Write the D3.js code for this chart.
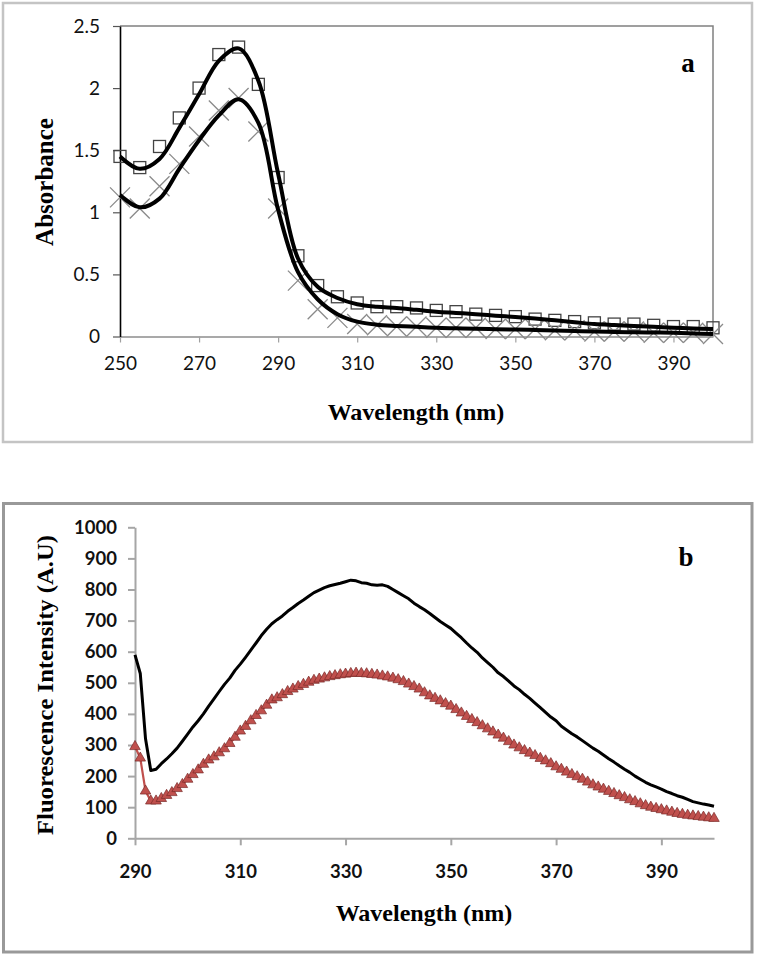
<!DOCTYPE html>
<html><head><meta charset="utf-8">
<script src="https://cdn.jsdelivr.net/npm/d3@7"></script>
<style>body{margin:0;background:#fff}svg{display:block}</style>
</head><body><svg id="c" width="757" height="956"></svg>
<script>
// ---------- Panel a : absorbance ----------
const wlA = [250,255,260,265,270,275,280,285,290,295,300,305,310,315,320,325,330,335,340,345,350,355,360,365,370,375,380,385,390,395,400];
const absSquares = [1.45,1.36,1.53,1.76,2.0,2.27,2.33,2.03,1.28,0.65,0.41,0.32,0.27,0.24,0.24,0.23,0.21,0.20,0.18,0.17,0.16,0.14,0.13,0.12,0.11,0.10,0.10,0.09,0.08,0.08,0.07];
const absCrosses = [1.12,1.03,1.21,1.39,1.61,1.82,1.92,1.65,1.03,0.45,0.22,0.15,0.10,0.09,0.08,0.08,0.07,0.07,0.07,0.06,0.06,0.06,0.05,0.05,0.04,0.04,0.04,0.03,0.03,0.03,0.02];
const absLineUpper = [1.45,1.35,1.43,1.68,1.95,2.22,2.32,2.06,1.31,0.63,0.40,0.31,0.26,0.24,0.23,0.215,0.20,0.19,0.18,0.168,0.157,0.145,0.13,0.115,0.10,0.092,0.085,0.078,0.07,0.065,0.06];
const absLineLower = [1.14,1.04,1.11,1.35,1.58,1.78,1.91,1.72,1.02,0.52,0.30,0.18,0.12,0.095,0.085,0.078,0.07,0.066,0.062,0.059,0.056,0.052,0.048,0.044,0.04,0.037,0.034,0.032,0.03,0.025,0.02];
const xTicksA = [250,270,290,310,330,350,370,390];
const yTicksA = [0,0.5,1,1.5,2,2.5];

// ---------- Panel b : fluorescence ----------
const wlB = [290,291,292,293,294,295,296,297,298,299,300,301,302,303,304,305,306,307,308,309,310,311,312,313,314,315,316,317,318,319,320,321,322,323,324,325,326,327,328,329,330,331,332,333,334,335,336,337,338,339,340,341,342,343,344,345,346,347,348,349,350,351,352,353,354,355,356,357,358,359,360,361,362,363,364,365,366,367,368,369,370,371,372,373,374,375,376,377,378,379,380,381,382,383,384,385,386,387,388,389,390,391,392,393,394,395,396,397,398,399,400];
const fluBlack = [590,530,320,218,222,240,255,272,290,312,335,358,378,400,425,448,472,495,515,540,560,582,605,628,652,672,690,703,715,730,742,755,766,778,790,798,806,812,816,820,825,830,828,822,820,815,814,815,810,800,790,780,770,756,745,735,723,710,697,686,675,660,645,628,612,598,580,565,550,532,520,505,490,478,463,450,435,420,405,390,378,360,348,336,326,314,302,290,280,268,256,245,233,222,212,200,190,180,172,165,158,150,144,137,132,125,118,114,110,107,103];
const fluRed = [295,258,152,120,120,128,138,147,160,173,190,205,220,238,252,262,275,288,305,325,345,360,378,395,410,428,445,452,462,472,480,488,495,502,508,512,516,520,523,526,528,530,531,530,529,527,525,522,519,515,510,504,496,488,480,468,458,450,442,433,425,414,403,392,382,372,362,352,342,332,322,311,300,291,282,274,266,257,249,240,230,222,213,205,198,190,181,172,165,158,151,144,137,131,124,118,111,105,100,96,92,88,84,80,77,74,72,70,68,66,64];
const xTicksB = [290,310,330,350,370,390];
const yTicksB = [0,100,200,300,400,500,600,700,800,900,1000];

const svg = d3.select("#c");
const sans = "Lato, 'Open Sans', sans-serif";
const serif = "'Liberation Serif', 'DejaVu Serif', serif";

// ======= Panel a =======
svg.append("rect").attr("x",3).attr("y",3).attr("width",749).attr("height",439)
  .attr("fill","none").attr("stroke","#c4c4c4").attr("stroke-width",2.5);

const xA = d3.scaleLinear().domain([250,400]).range([120,713]);
const yA = d3.scaleLinear().domain([0,2.5]).range([336.5,26]);

const gA = svg.append("g");
gA.append("path").attr("d",`M${xA(250)},${yA(2.5)}H${xA(400)}V${yA(0)}`)
  .attr("fill","none").attr("stroke","#808080").attr("stroke-width",1.5);

const axA = gA.append("g").attr("transform",`translate(0,${yA(0)})`)
  .call(d3.axisBottom(xA).tickValues(xTicksA).tickSize(6).tickSizeOuter(0).tickPadding(14));
axA.select(".domain").attr("stroke","#8c8c8c").attr("stroke-width",1.5);
axA.selectAll(".tick line").attr("stroke","#a0a0a0").attr("stroke-width",1.2);
axA.selectAll("text").attr("font-family",sans).attr("font-size",19).attr("fill","#111");

const ayA = gA.append("g").attr("transform",`translate(${xA(250)},0)`)
  .call(d3.axisLeft(yA).tickValues(yTicksA).tickSize(7).tickSizeOuter(0).tickPadding(13).tickFormat(d=>String(d)));
ayA.select(".domain").attr("stroke","#000").attr("stroke-width",1.6);
ayA.selectAll(".tick line").attr("stroke","#555").attr("stroke-width",1.2);
ayA.selectAll("text").attr("font-family",sans).attr("font-size",19).attr("fill","#111");

const sq = 12;
gA.selectAll(".sq").data(wlA).enter().append("rect")
  .attr("x",(d)=>xA(d)-sq/2).attr("y",(d,i)=>yA(absSquares[i])-sq/2)
  .attr("width",sq).attr("height",sq).attr("fill","none").attr("stroke","#444").attr("stroke-width",1.3);
const cr = 10;
gA.selectAll(".cx").data(wlA).enter().append("path")
  .attr("d",(d,i)=>{const x=xA(d), y=yA(absCrosses[i]); return `M${x-cr},${y-cr}L${x+cr},${y+cr}M${x-cr},${y+cr}L${x+cr},${y-cr}`;})
  .attr("fill","none").attr("stroke","#8a8a8a").attr("stroke-width",1.3);

const lineA = (vals)=>d3.line().curve(d3.curveCatmullRom.alpha(0.5))
  .x((d)=>xA(d)).y((d,i)=>yA(vals[i]))(wlA);
gA.append("path").attr("d",lineA(absLineUpper)).attr("fill","none").attr("stroke","#000").attr("stroke-width",4);
gA.append("path").attr("d",lineA(absLineLower)).attr("fill","none").attr("stroke","#000").attr("stroke-width",4);

gA.append("text").attr("x",688).attr("y",72).attr("text-anchor","middle")
  .attr("font-family",serif).attr("font-weight","bold").attr("font-size",27).text("a");
gA.append("text").attr("x",416).attr("y",420).attr("text-anchor","middle")
  .attr("font-family",serif).attr("font-weight","bold").attr("font-size",24).text("Wavelength (nm)");
gA.append("text").attr("transform","translate(53,182) rotate(-90)").attr("text-anchor","middle")
  .attr("font-family",serif).attr("font-weight","bold").attr("font-size",25).text("Absorbance");

// ======= Panel b =======
svg.append("rect").attr("x",3.5).attr("y",503.5).attr("width",748.5).attr("height",448.5)
  .attr("fill","none").attr("stroke","#999").attr("stroke-width",3);

const xB = d3.scaleLinear().domain([290,400]).range([135,714]);
const yB = d3.scaleLinear().domain([0,1000]).range([838.3,527.3]);
const gB = svg.append("g");

const axB = gB.append("g").attr("transform",`translate(0,${yB(0)})`)
  .call(d3.axisBottom(xB).tickValues(xTicksB).tickSize(7).tickSizeOuter(0).tickPadding(20).tickFormat(d=>String(d)));
axB.select(".domain").attr("stroke","#a6a6a6").attr("stroke-width",2);
axB.selectAll(".tick line").attr("stroke","#a6a6a6").attr("stroke-width",2);
axB.selectAll("text").attr("font-family",sans).attr("font-weight","bold").attr("font-size",18.5).attr("fill","#111");

const ayB = gB.append("g").attr("transform",`translate(${xB(290)},0)`)
  .call(d3.axisLeft(yB).tickValues(yTicksB).tickSize(7).tickSizeOuter(0).tickPadding(11).tickFormat(d=>String(d)));
ayB.select(".domain").attr("stroke","#a6a6a6").attr("stroke-width",2);
ayB.selectAll(".tick line").attr("stroke","#a6a6a6").attr("stroke-width",2);
ayB.selectAll("text").attr("font-family",sans).attr("font-weight","bold").attr("font-size",18.5).attr("fill","#111");

const lineB = (vals)=>d3.line().x((d)=>xB(d)).y((d,i)=>yB(vals[i]))(wlB);
gB.append("path").attr("d",lineB(fluRed)).attr("fill","none").attr("stroke","#c0504d").attr("stroke-width",2.2);
gB.selectAll(".tri").data(wlB).enter().append("path")
  .attr("d",d3.symbol().type(d3.symbolTriangle).size(48))
  .attr("transform",(d,i)=>`translate(${xB(d)},${yB(fluRed[i])})`)
  .attr("fill","#c0504d").attr("stroke","#7a2a28").attr("stroke-width",0.7);
gB.append("path").attr("d",lineB(fluBlack)).attr("fill","none").attr("stroke","#000").attr("stroke-width",3)
  .attr("stroke-linejoin","round");

gB.append("text").attr("x",686).attr("y",566).attr("text-anchor","middle")
  .attr("font-family",serif).attr("font-weight","bold").attr("font-size",27).text("b");
gB.append("text").attr("x",424).attr("y",921).attr("text-anchor","middle")
  .attr("font-family",serif).attr("font-weight","bold").attr("font-size",24).text("Wavelength (nm)");
gB.append("text").attr("transform","translate(53,685) rotate(-90)").attr("text-anchor","middle")
  .attr("font-family",serif).attr("font-weight","bold").attr("font-size",24)
  .attr("textLength",300).attr("lengthAdjust","spacingAndGlyphs").text("Fluorescence Intensity (A.U)");
</script>
</body></html>
